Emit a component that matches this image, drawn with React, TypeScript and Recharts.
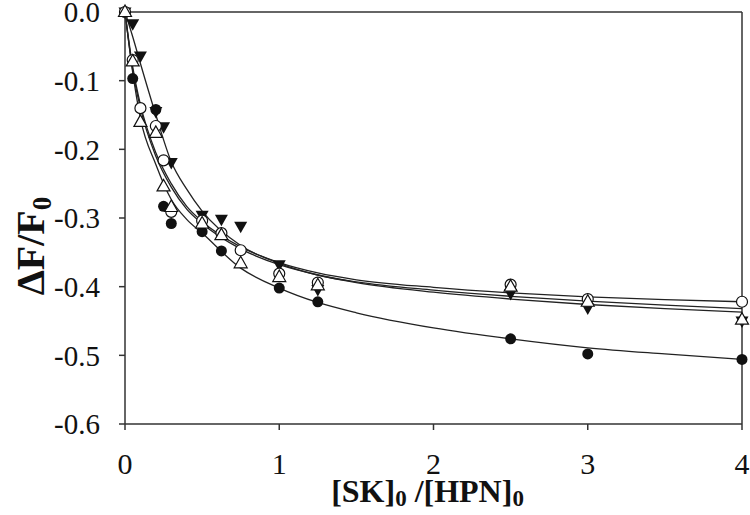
import {
  ComposedChart,
  Line,
  Scatter,
  XAxis,
  YAxis,
  ReferenceLine,
} from "recharts";

// measured points, x = [SK]0/[HPN]0, y = ΔF/F0
const ratioFilled = [0, 0.05, 0.2, 0.25, 0.3, 0.5, 0.625, 1, 1.25, 2.5, 3, 4];
const dfFilledCircle = [0, -0.097, -0.142, -0.283, -0.308, -0.32, -0.348, -0.402, -0.422, -0.476, -0.498, -0.506];

const ratioOpen = [0, 0.05, 0.1, 0.2, 0.25, 0.3, 0.5, 0.625, 0.75, 1, 1.25, 2.5, 3, 4];
const dfOpenCircle = [0, -0.07, -0.14, -0.166, -0.216, -0.291, -0.304, -0.322, -0.347, -0.381, -0.394, -0.397, -0.418, -0.422];
const dfOpenTriangle = [0, -0.072, -0.16, -0.176, -0.254, -0.284, -0.308, -0.325, -0.366, -0.386, -0.398, -0.4, -0.422, -0.448];
const dfInvTriangle = [0, -0.017, -0.064, -0.145, -0.167, -0.219, -0.296, -0.302, -0.312, -0.368, -0.404, -0.41, -0.431, -0.45];

// fitted curves
const fitX = [0, 0.05, 0.1, 0.2, 0.3, 0.4, 0.5, 0.75, 1, 1.25, 1.5, 2, 2.5, 3, 3.5, 4];
const fitFilledCircle = [0, -0.088, -0.155, -0.222, -0.273, -0.302, -0.322, -0.373, -0.402, -0.423, -0.438, -0.46, -0.476, -0.489, -0.498, -0.506];
const fitOpenCircle = [0, -0.08, -0.135, -0.205, -0.25, -0.283, -0.305, -0.342, -0.365, -0.38, -0.39, -0.401, -0.409, -0.415, -0.419, -0.422];
const fitOpenTriangle = [0, -0.085, -0.14, -0.21, -0.255, -0.287, -0.308, -0.345, -0.368, -0.383, -0.394, -0.408, -0.418, -0.426, -0.432, -0.437];
const fitInvTriangle = [0, -0.036, -0.075, -0.15, -0.218, -0.258, -0.29, -0.34, -0.366, -0.383, -0.393, -0.405, -0.414, -0.421, -0.427, -0.432];

const xTicks = [0, 1, 2, 3, 4];
const yTicks = [0, -0.1, -0.2, -0.3, -0.4, -0.5, -0.6];

const pts = (xs: number[], ys: number[]) => xs.map((x, i) => ({ x, y: ys[i] }));

const SERIF = "Liberation Serif";
const INK = "#111";

const FilledCircle = (p: any) => <circle cx={p.cx} cy={p.cy} r={5.5} fill={INK} />;
const OpenCircle = (p: any) => (
  <circle cx={p.cx} cy={p.cy} r={5.5} fill="#fff" stroke={INK} strokeWidth={1.2} />
);
const OpenTriangle = (p: any) => (
  <polygon
    points={`${p.cx},${p.cy - 7} ${p.cx - 6.5},${p.cy + 4.5} ${p.cx + 6.5},${p.cy + 4.5}`}
    fill="#fff"
    stroke={INK}
    strokeWidth={1.2}
  />
);
const InvTriangle = (p: any) => (
  <polygon
    points={`${p.cx},${p.cy + 7} ${p.cx - 6.5},${p.cy - 4.5} ${p.cx + 6.5},${p.cy - 4.5}`}
    fill={INK}
  />
);

const XTick = (p: any) => (
  <text x={p.x} y={p.y} dy="0.71em" textAnchor="middle" fontFamily={SERIF} fontSize={30} fill={INK}>
    {p.payload.value}
  </text>
);

const YTick = (p: any) => (
  <text x={p.x} y={p.y} dy="0.355em" textAnchor="end" fontFamily={SERIF} fontSize={29} fill={INK}>
    {Number(p.payload.value).toFixed(1)}
  </text>
);

const XTitle = (props: any) => {
  const vb = props.viewBox;
  return (
    <text
      x={vb.x + vb.width / 2 - 6}
      y={vb.y + 78}
      textAnchor="middle"
      fontFamily={SERIF}
      fontWeight="bold"
      fontSize={32}
      fill={INK}
    >
      [SK]<tspan fontSize={23} dy={4}>0</tspan>
      <tspan dy={-4}> /[HPN]</tspan>
      <tspan fontSize={23} dy={4}>0</tspan>
    </text>
  );
};

const YTitle = (props: any) => {
  const vb = props.viewBox;
  const cx = 44;
  const cy = vb.y + vb.height / 2 + 28;
  return (
    <text
      x={cx}
      y={cy}
      transform={`rotate(-90, ${cx}, ${cy})`}
      textAnchor="middle"
      fontFamily={SERIF}
      fontWeight="bold"
      fontSize={40}
      fill={INK}
    >
      ΔF/F<tspan fontSize={27} dy={7}>0</tspan>
    </text>
  );
};

export default function App() {
  const lineStyle = { stroke: "#222", strokeWidth: 1.3, dot: false, isAnimationActive: false } as const;
  return (
    <div style={{ position: "absolute", left: 0, top: 0, background: "#fff", fontFamily: SERIF }}>
      <ComposedChart
        width={750}
        height={515}
        margin={{ top: 12, right: 8, bottom: 31, left: 0 }}
      >
        <XAxis
          dataKey="x"
          type="number"
          domain={[0, 4]}
          ticks={xTicks}
          interval={0}
          tickSize={6}
          tickMargin={23}
          height={60}
          stroke="#333"
          strokeWidth={1.5}
          tick={<XTick />}
          allowDuplicatedCategory={false}
          label={{ content: XTitle }}
        />
        <YAxis
          dataKey="y"
          type="number"
          domain={[-0.6, 0]}
          ticks={yTicks}
          interval={0}
          tickSize={6}
          tickMargin={19}
          width={125}
          stroke="#333"
          strokeWidth={1.5}
          tick={<YTick />}
          label={{ content: YTitle }}
        />
        <ReferenceLine y={0} stroke="#333" strokeWidth={1.5} />
        <ReferenceLine x={4} stroke="#333" strokeWidth={1.5} />

        <Line data={pts(fitX, fitFilledCircle)} dataKey="y" type="monotone" {...lineStyle} />
        <Line data={pts(fitX, fitOpenCircle)} dataKey="y" type="monotone" {...lineStyle} />
        <Line data={pts(fitX, fitOpenTriangle)} dataKey="y" type="monotone" {...lineStyle} />
        <Line data={pts(fitX, fitInvTriangle)} dataKey="y" type="monotone" {...lineStyle} />

        <Scatter data={pts(ratioFilled, dfFilledCircle)} dataKey="y" shape={FilledCircle} isAnimationActive={false} />
        <Scatter data={pts(ratioOpen, dfInvTriangle)} dataKey="y" shape={InvTriangle} isAnimationActive={false} />
        <Scatter data={pts(ratioOpen, dfOpenCircle)} dataKey="y" shape={OpenCircle} isAnimationActive={false} />
        <Scatter data={pts(ratioOpen, dfOpenTriangle)} dataKey="y" shape={OpenTriangle} isAnimationActive={false} />
      </ComposedChart>
    </div>
  );
}
